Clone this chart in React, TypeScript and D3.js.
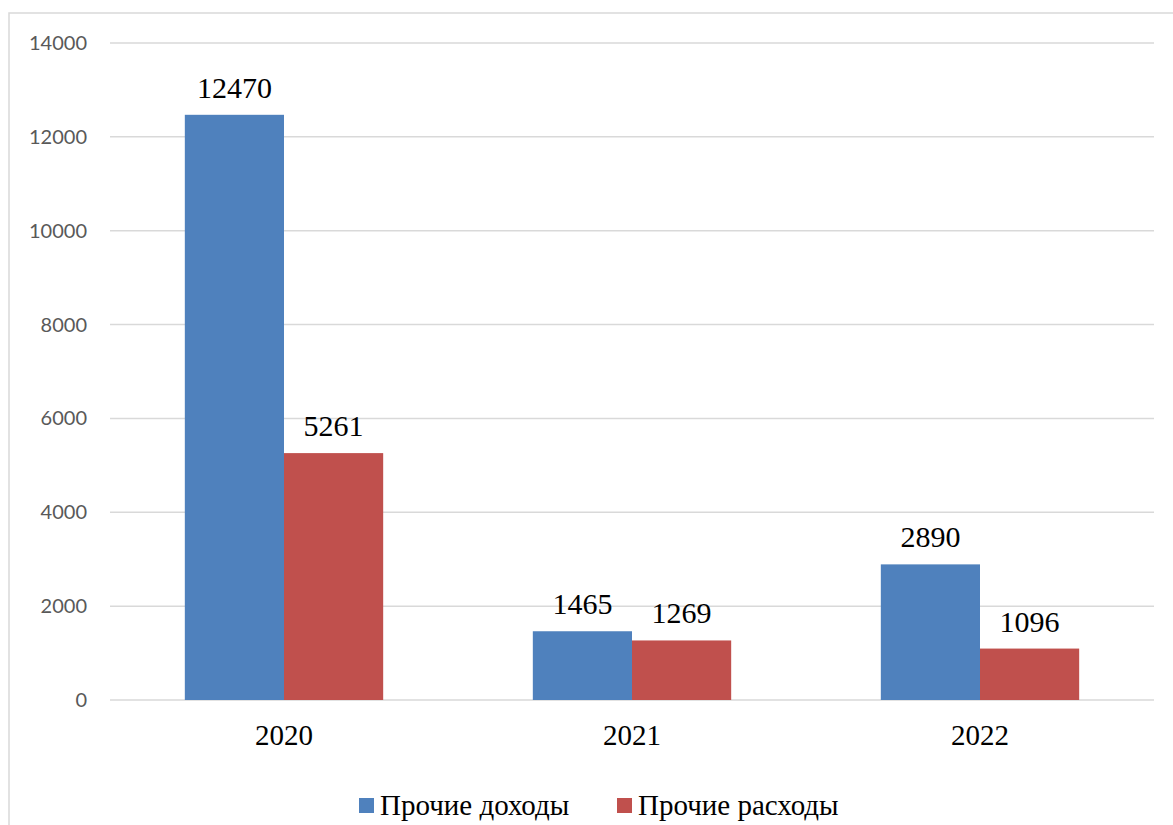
import React from "react";
import * as d3 from "d3";

const categories = ["2020", "2021", "2022"];
const seriesNames = ["Прочие доходы", "Прочие расходы"];
const incomeValues = [12470, 1465, 2890];
const expenseValues = [5261, 1269, 1096];
const yTicks = [0, 2000, 4000, 6000, 8000, 10000, 12000, 14000];
const colors = ["#4F81BD", "#C0504D"];

const W = 1173;
const H = 825;

export default function App() {
  const plotLeft = 110;
  const plotRight = 1154;
  const plotTop = 43;
  const plotBottom = 700;

  const x0 = d3
    .scaleBand<string>()
    .domain(categories)
    .range([plotLeft, plotRight])
    .paddingInner(0.43)
    .paddingOuter(0.215);
  const x1 = d3
    .scaleBand<number>()
    .domain([0, 1])
    .range([0, x0.bandwidth()])
    .padding(0);
  const y = d3.scaleLinear().domain([0, 14000]).range([plotBottom, plotTop]);

  const series = [incomeValues, expenseValues];

  return (
    <svg
      width={W}
      height={H}
      style={{ position: "absolute", left: 0, top: 0, background: "#fff" }}
    >
      <rect x={9} y={13} width={1300} height={1000} fill="#fff" stroke="#d9d9d9" strokeWidth={1.5} />
      {yTicks.map((t) => (
        <g key={t}>
          <line
            x1={plotLeft}
            x2={plotRight}
            y1={y(t)}
            y2={y(t)}
            stroke="#d9d9d9"
            strokeWidth={1.5}
          />
          <text
            x={87}
            y={y(t)}
            dy="0.35em"
            textAnchor="end"
            fontFamily="Lato, 'Open Sans', sans-serif"
            fontSize={20}
            fill="#595959"
          >
            {t}
          </text>
        </g>
      ))}
      {categories.map((c, ci) => (
        <g key={c}>
          {series.map((vals, si) => {
            const bx = (x0(c) ?? 0) + (x1(si) ?? 0);
            const bw = x1.bandwidth();
            return (
              <g key={si}>
                <rect
                  x={bx}
                  y={y(vals[ci])}
                  width={bw}
                  height={y(0) - y(vals[ci])}
                  fill={colors[si]}
                />
                <text
                  x={bx + bw / 2}
                  y={y(vals[ci]) - 17}
                  textAnchor="middle"
                  fontFamily="'Liberation Serif', 'Times New Roman', serif"
                  fontSize={30}
                  fill="#000"
                >
                  {vals[ci]}
                </text>
              </g>
            );
          })}
          <text
            x={(x0(c) ?? 0) + x0.bandwidth() / 2}
            y={745}
            textAnchor="middle"
            fontFamily="'Liberation Serif', 'Times New Roman', serif"
            fontSize={29}
            fill="#000"
          >
            {c}
          </text>
        </g>
      ))}
      {seriesNames.map((name, i) => {
        const lx = i === 0 ? 359 : 617;
        return (
          <g key={name}>
            <rect x={lx} y={798} width={15} height={15} fill={colors[i]} />
            <text
              x={lx + 21}
              y={815}
              fontFamily="'Liberation Serif', 'Times New Roman', serif"
              fontSize={29}
              fill="#000"
            >
              {name}
            </text>
          </g>
        );
      })}
    </svg>
  );
}
